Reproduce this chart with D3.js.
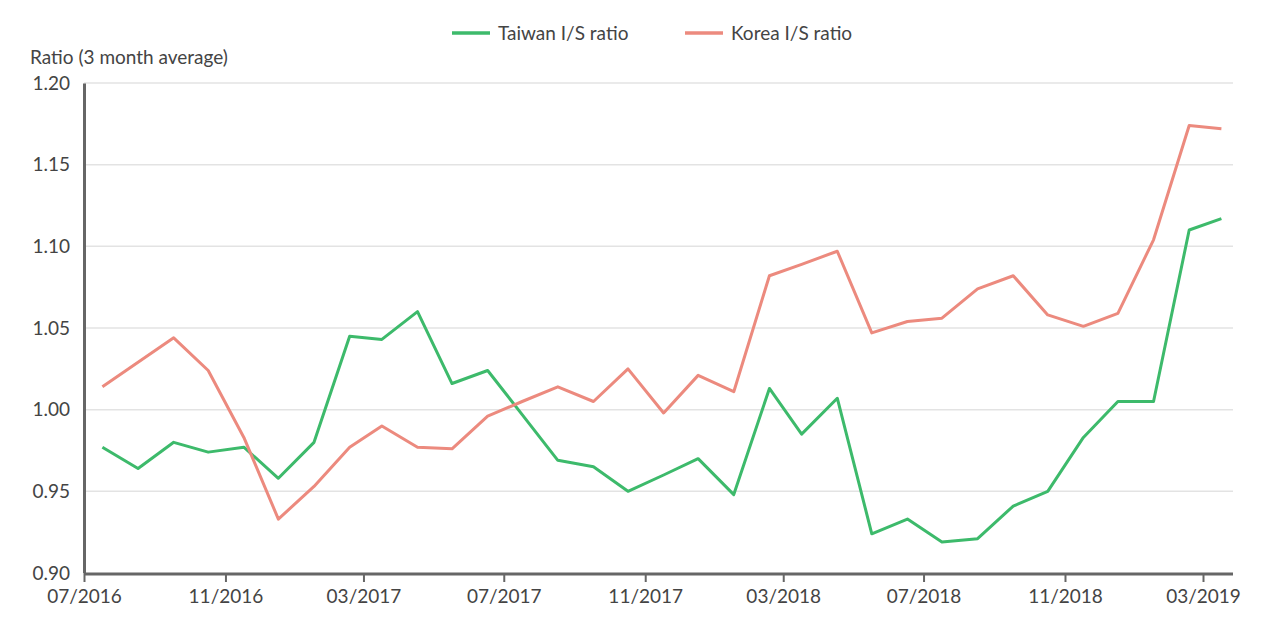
<!DOCTYPE html>
<html>
<head>
<meta charset="utf-8">
<script src="https://cdn.jsdelivr.net/npm/d3@7"></script>
<style>
  body { margin: 0; background: #fff; }
  text { font-family: 'Lato', 'Open Sans', sans-serif; fill: #444; }
</style>
</head>
<body>
<div id="chart"></div>
<script>
const months = d3.range(33).map(i => new Date(2016, 6 + i, 17))
const taiwan = [0.977, 0.964, 0.980, 0.974, 0.977, 0.958, 0.980, 1.045, 1.043, 1.060,
  1.016, 1.024, 0.997, 0.969, 0.965, 0.950, 0.960, 0.970, 0.948, 1.013,
  0.985, 1.007, 0.924, 0.933, 0.919, 0.921, 0.941, 0.950, 0.983, 1.005,
  1.005, 1.110, 1.117]
const korea = [1.014, 1.029, 1.044, 1.024, 0.983, 0.933, 0.953, 0.977, 0.990, 0.977,
  0.976, 0.996, 1.005, 1.014, 1.005, 1.025, 0.998, 1.021, 1.011, 1.082,
  1.089, 1.097, 1.047, 1.054, 1.056, 1.074, 1.082, 1.058, 1.051, 1.059,
  1.104, 1.174, 1.172]
const yTicks = [0.90, 0.95, 1.00, 1.05, 1.10, 1.15, 1.20]
const xTicks = d3.range(9).map(i => new Date(2016, 6 + i * 4, 1))
const series = [
  { name: 'Taiwan I/S ratio', values: taiwan, color: '#3dba6b' },
  { name: 'Korea I/S ratio', values: korea, color: '#ec8a7e' },
]

const width = 1280
const height = 637
const left = 84
const right = 1233

const svg = d3.select('#chart').append('svg')
  .attr('width', width)
  .attr('height', height)

const x = d3.scaleTime()
  .domain([new Date(2016, 6, 1), new Date(2019, 2, 1)])
  .range([left, 1203])

const y = d3.scaleLinear().domain([0.9, 1.2]).range([573, 83])

// gridlines
svg.append('g')
  .selectAll('line')
  .data(yTicks.slice(1))
  .enter()
  .append('line')
  .attr('x1', left)
  .attr('x2', right)
  .attr('y1', d => y(d))
  .attr('y2', d => y(d))
  .attr('stroke', '#e3e3e3')
  .attr('stroke-width', 1.5)

// y axis
const axisY = svg.append('g')
  .attr('transform', 'translate(' + left + ',0)')
  .call(d3.axisLeft(y).tickValues(yTicks).tickFormat(d3.format('.2f')).tickSize(0).tickPadding(14))
axisY.select('.domain').attr('stroke', '#666').attr('stroke-width', 3)
axisY.selectAll('text').style('font-size', '19px').attr('fill', '#444')

// x axis
const axisX = svg.append('g')
  .attr('transform', 'translate(0,' + 574 + ')')
  .call(d3.axisBottom(x).tickValues(xTicks).tickFormat(d3.timeFormat('%m/%Y')).tickSize(8).tickPadding(8))
axisX.select('.domain').remove()
axisX.append('line').attr('x1', left).attr('x2', right).attr('stroke', '#666').attr('stroke-width', 3)
axisX.selectAll('.tick line').attr('stroke', '#666').attr('stroke-width', 2)
axisX.selectAll('text').style('font-size', '19px').attr('fill', '#444')

// y title
svg.append('text')
  .attr('x', 30)
  .attr('y', 64)
  .style('font-size', '19px')
  .text('Ratio (3 month average)')

// lines
const line = d3.line()
  .x((d, i) => x(months[i]))
  .y(d => y(d))

svg.append('g')
  .selectAll('path')
  .data(series)
  .enter()
  .append('path')
  .attr('d', d => line(d.values))
  .attr('fill', 'none')
  .attr('stroke', d => d.color)
  .attr('stroke-width', 3)
  .attr('stroke-linejoin', 'round')

// legend
const legendX = [452, 685]
const legend = svg.append('g')
  .selectAll('g')
  .data(series)
  .enter()
  .append('g')
  .attr('transform', (d, i) => 'translate(' + legendX[i] + ',33)')
legend.append('line')
  .attr('x1', 0).attr('x2', 38)
  .attr('stroke', d => d.color)
  .attr('stroke-width', 3.5)
legend.append('text')
  .attr('x', 46)
  .attr('y', 7)
  .style('font-size', '19px')
  .text(d => d.name)
</script>
</body>
</html>
